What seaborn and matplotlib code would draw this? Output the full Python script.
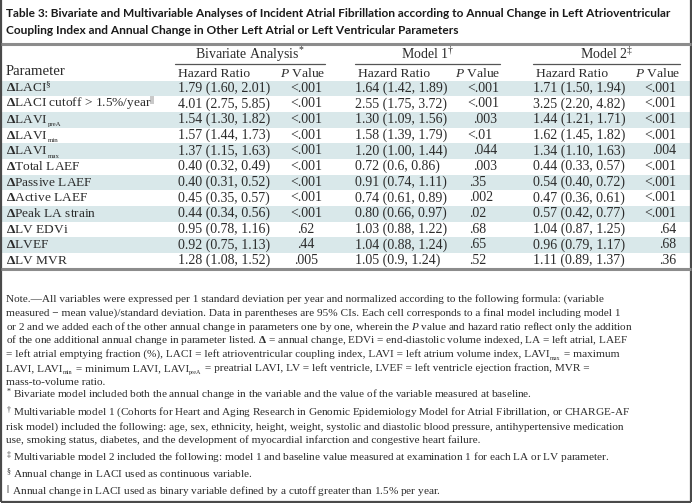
import numpy as np
import matplotlib
matplotlib.use("Agg")
import matplotlib.pyplot as plt
from matplotlib.colors import ListedColormap
import seaborn as sns

sns.set_theme(style="white")
plt.rcParams['font.family'] = ['Liberation Serif', 'DejaVu Serif']
plt.rcParams['mathtext.fontset'] = 'custom'
plt.rcParams['mathtext.rm'] = 'Liberation Serif'
plt.rcParams['mathtext.it'] = 'Liberation Serif:italic'
plt.rcParams['mathtext.bf'] = 'Liberation Serif:bold'

# ---------------- data ----------------
title_lines = [
    "Table 3: Bivariate and Multivariable Analyses of Incident Atrial Fibrillation according to Annual Change in Left Atrioventricular",
    "Coupling Index and Annual Change in Other Left Atrial or Left Ventricular Parameters",
]
group_headers = [r"Bivariate Analysis$^{*}$", r"Model 1$^{†}$", r"Model 2$^{‡}$"]
col_headers = ["Hazard Ratio", r"$\mathit{P}$ Value"]
param_header = "Parameter"

# each parameter label: list of (text, kind) runs, kind "n" = normal, "s" = subscript
D = r"$\mathbf{\Delta}$"
parameters = [
    [(D + r"LACI$^{§}$", "n")],
    [(D + r"LACI cutoff > 1.5%/year$^{||}$", "n")],
    [(D + "LAVI", "n"), ("preA", "s")],
    [(D + "LAVI", "n"), ("min", "s")],
    [(D + "LAVI", "n"), ("max", "s")],
    [(D + "Total LAEF", "n")],
    [(D + "Passive LAEF", "n")],
    [(D + "Active LAEF", "n")],
    [(D + "Peak LA strain", "n")],
    [(D + "LV EDVi", "n")],
    [(D + "LVEF", "n")],
    [(D + "LV MVR", "n")],
]

biv_hr = ["1.79 (1.60, 2.01)", "4.01 (2.75, 5.85)", "1.54 (1.30, 1.82)", "1.57 (1.44, 1.73)",
          "1.37 (1.15, 1.63)", "0.40 (0.32, 0.49)", "0.40 (0.31, 0.52)", "0.45 (0.35, 0.57)",
          "0.44 (0.34, 0.56)", "0.95 (0.78, 1.16)", "0.92 (0.75, 1.13)", "1.28 (1.08, 1.52)"]
biv_p = ["<.001", "<.001", "<.001", "<.001", "<.001", "<.001", "<.001", "<.001", "<.001",
         ".62", ".44", ".005"]
m1_hr = ["1.64 (1.42, 1.89)", "2.55 (1.75, 3.72)", "1.30 (1.09, 1.56)", "1.58 (1.39, 1.79)",
         "1.20 (1.00, 1.44)", "0.72 (0.6, 0.86)", "0.91 (0.74, 1.11)", "0.74 (0.61, 0.89)",
         "0.80 (0.66, 0.97)", "1.03 (0.88, 1.22)", "1.04 (0.88, 1.24)", "1.05 (0.9, 1.24)"]
m1_p = ["<.001", "<.001", ".003", "<.01", ".044", ".003", ".35", ".002", ".02", ".68", ".65", ".52"]
m2_hr = ["1.71 (1.50, 1.94)", "3.25 (2.20, 4.82)", "1.44 (1.21, 1.71)", "1.62 (1.45, 1.82)",
         "1.34 (1.10, 1.63)", "0.44 (0.33, 0.57)", "0.54 (0.40, 0.72)", "0.47 (0.36, 0.61)",
         "0.57 (0.42, 0.77)", "1.04 (0.87, 1.25)", "0.96 (0.79, 1.17)", "1.11 (0.89, 1.37)"]
m2_p = ["<.001", "<.001", "<.001", "<.001", ".004", "<.001", "<.001", "<.001", "<.001",
        ".64", ".68", ".36"]

note_lines = [
    [(r"Note.—All variables were expressed per 1 standard deviation per year and normalized according to the following formula: (variable", "n")],
    [(r"measured − mean value)/standard deviation. Data in parentheses are 95% CIs. Each cell corresponds to a final model including model 1", "n")],
    [(r"or 2 and we added each of the other annual change in parameters one by one, wherein the $\mathit{P}$ value and hazard ratio reflect only the addition", "n")],
    [(r"of the one additional annual change in parameter listed. $\mathbf{\Delta}$ = annual change, EDVi = end-diastolic volume indexed, LA = left atrial, LAEF", "n")],
    [(r"= left atrial emptying fraction (%), LACI = left atrioventricular coupling index, LAVI = left atrium volume index, LAVI", "n"),
     ("max", "s"), (" = maximum", "n")],
    [("LAVI, LAVI", "n"), ("min", "s"), (" = minimum LAVI, LAVI", "n"), ("preA", "s"),
     (" = preatrial LAVI, LV = left ventricle, LVEF = left ventricle ejection fraction, MVR =", "n")],
    [("mass-to-volume ratio.", "n")],
]
footnotes = [
    [r"$^{*}$ Bivariate model included both the annual change in the variable and the value of the variable measured at baseline."],
    [r"$^{†}$ Multivariable model 1 (Cohorts for Heart and Aging Research in Genomic Epidemiology Model for Atrial Fibrillation, or CHARGE-AF",
     r"risk model) included the following: age, sex, ethnicity, height, weight, systolic and diastolic blood pressure, antihypertensive medication",
     r"use, smoking status, diabetes, and the development of myocardial infarction and congestive heart failure."],
    [r"$^{‡}$ Multivariable model 2 included the following: model 1 and baseline value measured at examination 1 for each LA or LV parameter."],
    [r"$^{§}$ Annual change in LACI used as continuous variable."],
    [r"$^{||}$ Annual change in LACI used as binary variable defined by a cutoff greater than 1.5% per year."],
]

# ---------------- layout ----------------
W, H = 692, 503
fig = plt.figure(figsize=(W / 100, H / 100), dpi=100)
renderer = fig.canvas.get_renderer()

n = len(parameters)
row_top0, row_h = 80.5, 15.67
stripe_color = "#d9e8ea"
text_col = "#2b2b2b"

# striped body via seaborn heatmap
stripes = (np.arange(n) % 2 == 0).astype(float).reshape(-1, 1)
hax = fig.add_axes([2 / W, 1 - (row_top0 + n * row_h) / H, (W - 4) / W, n * row_h / H])
sns.heatmap(stripes, ax=hax, cmap=ListedColormap(["white", stripe_color]), cbar=False,
            xticklabels=False, yticklabels=False, vmin=0, vmax=1)
hax.set_axis_off()

ax = fig.add_axes([0, 0, 1, 1], facecolor="none")
ax.set_xlim(0, W)
ax.set_ylim(H, 0)
ax.set_axis_off()


def draw_runs(x, y, runs, fs, sub_scale=0.56, sub_drop=0.25):
    """Draw a line of text made of normal and subscript runs, left to right."""
    for txt, kind in runs:
        if kind == "s":
            sfs = fs * sub_scale
            t = ax.text(x + 0.3, y + fs * 100 / 72 * sub_drop, txt, fontsize=sfs,
                        color=text_col, ha="left", va="baseline")
        else:
            t = ax.text(x, y, txt, fontsize=fs, color=text_col, ha="left", va="baseline")
        bb = t.get_window_extent(renderer)
        x += bb.width + (0.6 if kind == "s" else 0)


# frame
frame_c = "#4a4a4a"
ax.plot([1, 1], [0, H - 1.5], color=frame_c, lw=1.6, solid_capstyle="butt")
ax.plot([W - 1.5, W - 1.5], [0, H - 1.5], color=frame_c, lw=1.6, solid_capstyle="butt")
ax.plot([1, W - 1.5], [H - 1.5, H - 1.5], color=frame_c, lw=1.6, solid_capstyle="butt")

# title
title_fs = 8.6
for i, t in enumerate(title_lines):
    ax.text(6, 16.5 + i * 17.5, t, fontsize=title_fs, fontfamily="Lato", fontweight="bold",
            color="#1a1a1a", va="baseline", ha="left")
ax.plot([1, W - 1.5], [44, 44], color="#8c8c8c", lw=2.2, solid_capstyle="butt")

# header
body_fs = 10.0
label_fs = 9.6
x_param, x_biv, x_m1, x_m2 = 6, 178, 355, 533
group_spans = [(175, 325), (355, 500), (533, 680)]
for (a, b), g in zip(group_spans, group_headers):
    ax.text((a + b) / 2, 59, g, fontsize=body_fs, color=text_col, ha="center", va="baseline")
    ax.plot([a, b], [63.5, 63.5], color="#555555", lw=0.9)
ax.text(x_param, 75, param_header, fontsize=body_fs + 0.6, color=text_col, ha="left", va="baseline")
for (a, b) in group_spans:
    ax.text(a + 3, 77, col_headers[0], fontsize=body_fs - 0.3, color=text_col, ha="left", va="baseline")
    ax.text(b, 77, col_headers[1], fontsize=body_fs - 0.3, color=text_col, ha="right", va="baseline")

# body
m1_align = ["left", "left", "right", "left", "right", "right",
            "left", "left", "left", "left", "left", "left"]
for i in range(n):
    yb = row_top0 + i * row_h + 11.2
    draw_runs(x_param, yb, parameters[i], label_fs, sub_scale=0.52, sub_drop=0.24)
    ax.text(x_biv, yb, biv_hr[i], fontsize=body_fs, color=text_col, ha="left", va="baseline")
    ax.text(306, yb, biv_p[i], fontsize=body_fs, color=text_col, ha="center", va="baseline")
    ax.text(x_m1, yb, m1_hr[i], fontsize=body_fs, color=text_col, ha="left", va="baseline")
    if m1_align[i] == "left":
        ax.text(467 if i < 6 else 469, yb, m1_p[i], fontsize=body_fs, color=text_col, ha="left", va="baseline")
    else:
        ax.text(497, yb, m1_p[i], fontsize=body_fs, color=text_col, ha="right", va="baseline")
    ax.text(x_m2, yb, m2_hr[i], fontsize=body_fs, color=text_col, ha="left", va="baseline")
    ax.text(676, yb, m2_p[i], fontsize=body_fs, color=text_col, ha="right", va="baseline")

table_bottom = row_top0 + n * row_h
ax.plot([1, W - 1.5], [table_bottom, table_bottom], color="#8c8c8c", lw=2.2, solid_capstyle="butt")

# notes
note_fs = 8.1
y = 302
for runs in note_lines:
    draw_runs(6, y, runs, note_fs, sub_scale=0.55, sub_drop=0.28)
    y += 13.8
y = 398
for block in footnotes:
    for line in block:
        ax.text(6, y, line, fontsize=note_fs, color=text_col, ha="left", va="baseline")
        y += 14.0
    y += 3.3

fig.savefig("out.png", dpi=100)
